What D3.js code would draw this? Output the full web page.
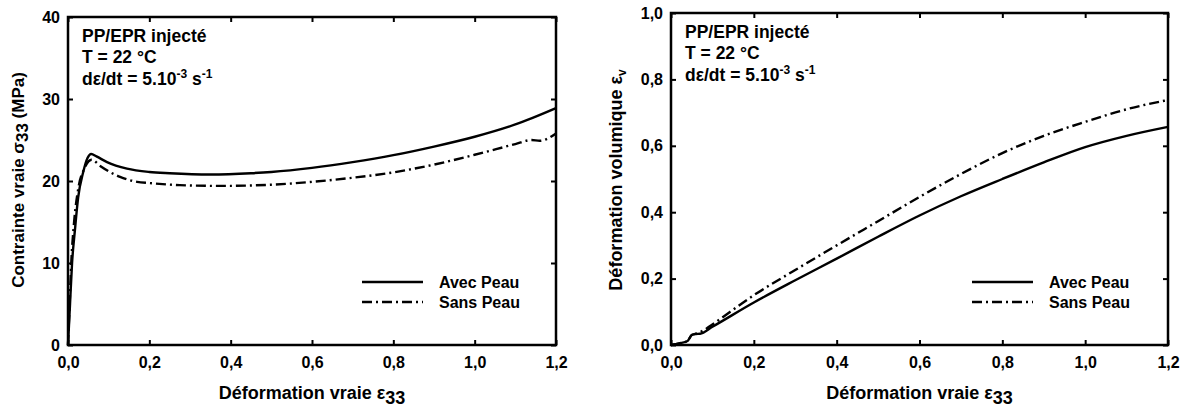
<!DOCTYPE html>
<html>
<head>
<meta charset="utf-8">
<script src="https://cdn.jsdelivr.net/npm/d3@7"></script>
<style>
  body { margin: 0; background: #fff; }
  svg { font-family: "Liberation Sans", Arial, sans-serif; font-weight: bold; }
</style>
</head>
<body>
<div id="chart"></div>
<script>
// true strain (x) and true stress (MPa), left panel
var stressAvecX = [0, 0.005, 0.01, 0.017, 0.025, 0.037, 0.048, 0.057, 0.07, 0.096, 0.145, 0.2, 0.25, 0.35, 0.45, 0.5, 0.6, 0.7, 0.8, 0.9, 1.0, 1.1, 1.2];
var stressAvecY = [0, 5, 10, 14, 18, 21, 22.8, 23.3, 23.0, 22.3, 21.5, 21.1, 20.95, 20.8, 20.95, 21.1, 21.6, 22.3, 23.15, 24.2, 25.4, 26.9, 28.9];
var stressSansX = [0, 0.004, 0.008, 0.015, 0.025, 0.04, 0.058, 0.08, 0.128, 0.17, 0.2, 0.275, 0.375, 0.5, 0.6, 0.7, 0.8, 0.9, 1.0, 1.1, 1.14, 1.16, 1.2];
var stressSansY = [0, 5, 10, 15, 19, 21.5, 22.6, 21.8, 20.5, 19.9, 19.75, 19.5, 19.4, 19.55, 19.9, 20.4, 21.05, 22.0, 23.2, 24.5, 25.0, 24.9, 25.8];

// true strain (x) and volumetric strain, right panel
var volAvecX = [0, 0.02, 0.04, 0.05, 0.06, 0.07, 0.1, 0.2, 0.3, 0.4, 0.5, 0.6, 0.7, 0.8, 0.9, 1.0, 1.1, 1.2];
var volAvecY = [0, 0.005, 0.012, 0.03, 0.033, 0.034, 0.055, 0.128, 0.195, 0.26, 0.326, 0.39, 0.448, 0.5, 0.55, 0.596, 0.63, 0.657];
var volSansX = [0, 0.02, 0.04, 0.05, 0.06, 0.08, 0.1, 0.2, 0.3, 0.4, 0.5, 0.6, 0.7, 0.8, 0.9, 1.0, 1.1, 1.2];
var volSansY = [0, 0.005, 0.012, 0.03, 0.034, 0.045, 0.062, 0.15, 0.226, 0.3, 0.373, 0.446, 0.515, 0.578, 0.63, 0.672, 0.71, 0.738];

var xTicks = [0, 0.2, 0.4, 0.6, 0.8, 1.0, 1.2];
var stressTicks = [0, 10, 20, 30, 40];
var volTicks = [0, 0.2, 0.4, 0.6, 0.8, 1.0];
var seriesNames = ["Avec Peau", "Sans Peau"];

function zip(xs, ys) {
    return xs.map(function (x, i) { return {x: x, y: ys[i]}; });
}

var comma = function (d) { return d3.format(".1f")(d).replace(".", ","); };

var svg = d3.select("#chart").append("svg")
    .attr("width", 1188)
    .attr("height", 410);

function panel(opt) {
    var x = d3.scaleLinear().domain([0, 1.2]).range([opt.left, opt.right]);
    var y = d3.scaleLinear().domain(opt.yDomain).range([opt.bottom, opt.top]);
    var g = svg.append("g");

    // ticks inside the frame on all four sides
    g.append("g").attr("transform", "translate(0," + opt.bottom + ")")
        .call(d3.axisBottom(x).tickValues(xTicks).tickSizeInner(-5).tickSizeOuter(0).tickPadding(12).tickFormat(comma));
    g.append("g").attr("transform", "translate(0," + opt.top + ")")
        .call(d3.axisTop(x).tickValues(xTicks).tickSizeInner(-5).tickSizeOuter(0).tickFormat(""));
    g.append("g").attr("transform", "translate(" + opt.left + ",0)")
        .call(d3.axisLeft(y).tickValues(opt.yTicks).tickSizeInner(-5).tickSizeOuter(0).tickPadding(8).tickFormat(opt.yFormat));
    g.append("g").attr("transform", "translate(" + opt.right + ",0)")
        .call(d3.axisRight(y).tickValues(opt.yTicks).tickSizeInner(-5).tickSizeOuter(0).tickFormat(""));

    g.selectAll(".domain").remove();
    g.selectAll(".tick line").attr("stroke", "#000").attr("stroke-width", 2);
    g.selectAll(".tick text").attr("fill", "#000").style("font-size", "16px").style("font-weight", "bold");

    g.append("rect")
        .attr("x", opt.left).attr("y", opt.top)
        .attr("width", opt.right - opt.left).attr("height", opt.bottom - opt.top)
        .attr("fill", "none").attr("stroke", "#000").attr("stroke-width", 2.5);

    var line = d3.line()
        .x(function (d) { return x(d.x); })
        .y(function (d) { return y(d.y); })
        .curve(d3.curveMonotoneX);

    g.append("path").datum(opt.avec)
        .attr("fill", "none").attr("stroke", "#000").attr("stroke-width", 2.4)
        .attr("d", line);
    g.append("path").datum(opt.sans)
        .attr("fill", "none").attr("stroke", "#000").attr("stroke-width", 2.4)
        .attr("stroke-dasharray", "10,4,2,4")
        .attr("d", line);

    // annotation
    var ax = opt.left + 14;
    var ann = g.append("text").attr("x", ax).style("font-size", "17.5px");
    ann.append("tspan").attr("x", ax).attr("y", opt.top + 25).text("PP/EPR injecté");
    ann.append("tspan").attr("x", ax).attr("y", opt.top + 46).text("T = 22 °C");
    ann.append("tspan").attr("x", ax).attr("y", opt.top + 68).text("dε/dt = 5.10");
    ann.append("tspan").attr("dy", -7).style("font-size", "12px").text("-3");
    ann.append("tspan").attr("dy", 7).text(" s");
    ann.append("tspan").attr("dy", -7).style("font-size", "12px").text("-1");

    // legend
    seriesNames.forEach(function (name, i) {
        var ly = 282 + i * 20;
        g.append("line")
            .attr("x1", opt.legendX).attr("x2", opt.legendX + 61)
            .attr("y1", ly).attr("y2", ly)
            .attr("stroke", "#000").attr("stroke-width", 2.4)
            .attr("stroke-dasharray", i === 0 ? null : "10,4,2,4");
        g.append("text")
            .attr("x", opt.legendX + 77).attr("y", ly + 6)
            .style("font-size", "16px")
            .text(name);
    });

    // x axis title
    var xt = g.append("text")
        .attr("x", (opt.left + opt.right) / 2).attr("y", 399)
        .attr("text-anchor", "middle")
        .style("font-size", "18px");
    xt.append("tspan").text("Déformation vraie ε");
    xt.append("tspan").attr("dy", 5).text("33");

    // y axis title
    var yt = g.append("text")
        .attr("transform", "translate(" + opt.yTitleX + "," + opt.yTitleY + ") rotate(-90)")
        .attr("text-anchor", "middle")
        .style("font-size", opt.yTitleSize);
    opt.yTitle(yt);
}

panel({
    left: 68, right: 556, top: 17, bottom: 345,
    yDomain: [0, 40], yTicks: stressTicks, yFormat: d3.format("d"),
    avec: zip(stressAvecX, stressAvecY), sans: zip(stressSansX, stressSansY),
    legendX: 362, yTitleX: 24, yTitleY: 180, yTitleSize: "17px",
    yTitle: function (t) {
        t.append("tspan").text("Contrainte vraie σ");
        t.append("tspan").attr("dy", 4).text("33");
        t.append("tspan").attr("dy", -4).text(" (MPa)");
    }
});

panel({
    left: 671, right: 1168, top: 13, bottom: 345,
    yDomain: [0, 1], yTicks: volTicks, yFormat: comma,
    avec: zip(volAvecX, volAvecY), sans: zip(volSansX, volSansY),
    legendX: 972, yTitleX: 622, yTitleY: 180, yTitleSize: "18px",
    yTitle: function (t) {
        t.append("tspan").text("Déformation volumique ε");
        t.append("tspan").attr("dy", 4).style("font-size", "12px").text("v");
    }
});
</script>
</body>
</html>
